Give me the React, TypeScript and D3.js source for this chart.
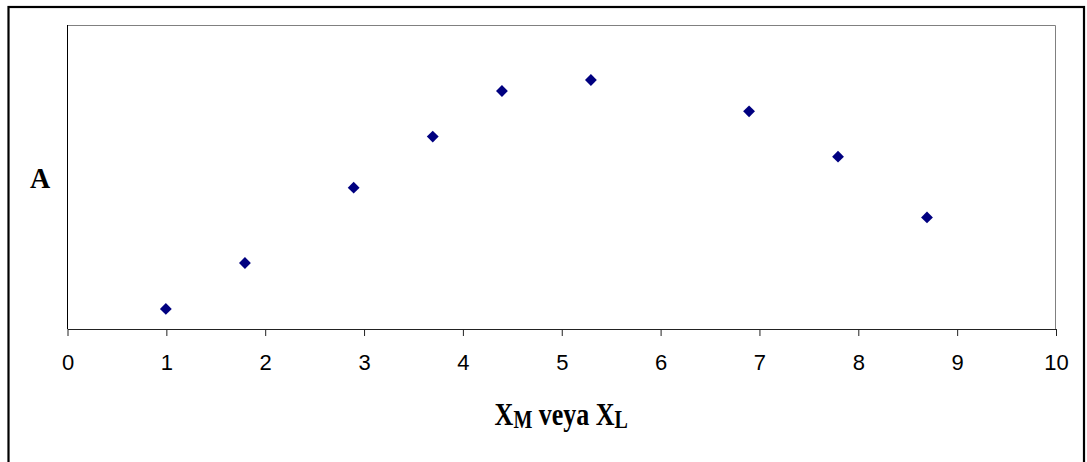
import React, { useEffect, useRef } from "react";
import * as d3 from "d3";

// values (the y axis has no scale, so A is on 0..100)
const xValues = [1, 1.8, 2.9, 3.7, 4.4, 5.3, 6.9, 7.8, 8.7];
const aValues = [6.6, 21.7, 46.5, 63.3, 78.3, 81.9, 71.6, 56.7, 36.7];
const xTicks = [0, 1, 2, 3, 4, 5, 6, 7, 8, 9, 10];

const width = 1087;
const height = 462;
const plot = { left: 67, top: 25, right: 1055.5, bottom: 329 };

function App() {
  const ref = useRef<SVGSVGElement>(null);

  useEffect(() => {
    const svg = d3.select(ref.current);
    svg.selectAll("*").remove();

    const x = d3.scaleLinear().domain([0, 10]).range([plot.left, plot.right]);
    const y = d3.scaleLinear().domain([0, 100]).range([plot.bottom, plot.top]);

    svg
      .append("rect")
      .attr("x", 0)
      .attr("y", 0)
      .attr("width", width)
      .attr("height", height)
      .attr("fill", "#fff");

    // outer chart frame
    svg
      .append("rect")
      .attr("x", 8.5)
      .attr("y", 7)
      .attr("width", 1075.5)
      .attr("height", 480)
      .attr("fill", "none")
      .attr("stroke", "#000")
      .attr("stroke-width", 2.2);

    // plot area: top and right edges are grey
    svg
      .append("path")
      .attr(
        "d",
        `M${plot.left},${plot.top + 0.5}H${plot.right}V${plot.bottom}`
      )
      .attr("fill", "none")
      .attr("stroke", "#808080")
      .attr("stroke-width", 1);

    // y axis, no ticks
    svg
      .append("line")
      .attr("x1", plot.left + 0.5)
      .attr("x2", plot.left + 0.5)
      .attr("y1", plot.top)
      .attr("y2", plot.bottom)
      .attr("stroke", "#000");

    const xAxis = d3
      .axisBottom(x)
      .tickValues(xTicks)
      .tickFormat(d3.format("d"))
      .tickSizeInner(7)
      .tickSizeOuter(0)
      .tickPadding(18);

    const gx = svg
      .append("g")
      .attr("transform", `translate(0.5, ${plot.bottom})`)
      .call(xAxis);
    gx.select(".domain").attr("stroke", "#222");
    gx.selectAll(".tick line").attr("stroke", "#222");
    gx.selectAll(".tick text")
      .attr("fill", "#000")
      .attr("font-family", "Arial, 'Liberation Sans', sans-serif")
      .attr("font-size", 22)
      .attr("dy", "0.71em");

    // points
    const diamond = d3.symbol().type(d3.symbolSquare).size(70);
    svg
      .append("g")
      .selectAll("path")
      .data(xValues.map((v, i) => ({ x: v, a: aValues[i] })))
      .join("path")
      .attr("d", diamond)
      .attr("transform", (d) => `translate(${x(d.x)},${y(d.a)}) rotate(45)`)
      .attr("fill", "#000080");

    // axis titles
    svg
      .append("text")
      .attr("transform", "translate(40,187.5) scale(1,1.05)")
      .attr("text-anchor", "middle")
      .attr("font-family", "'Times New Roman', 'Liberation Serif', serif")
      .attr("font-weight", "bold")
      .attr("font-size", 28)
      .text("A");

    const title = svg
      .append("text")
      .attr("transform", `translate(${(plot.left + plot.right) / 2},425) scale(1,1.25)`)
      .attr("text-anchor", "middle")
      .attr("font-family", "'Times New Roman', 'Liberation Serif', serif")
      .attr("font-weight", "bold")
      .attr("font-size", 26);
    title.append("tspan").text("X");
    title.append("tspan").attr("font-size", 20).attr("dy", 2.4).text("M");
    title.append("tspan").attr("dy", -2.4).text(" veya X");
    title.append("tspan").attr("font-size", 20).attr("dy", 2.4).text("L");
  }, []);

  return (
    <svg
      ref={ref}
      width={width}
      height={height}
      style={{ position: "absolute", left: 0, top: 0 }}
    />
  );
}

export default App;
